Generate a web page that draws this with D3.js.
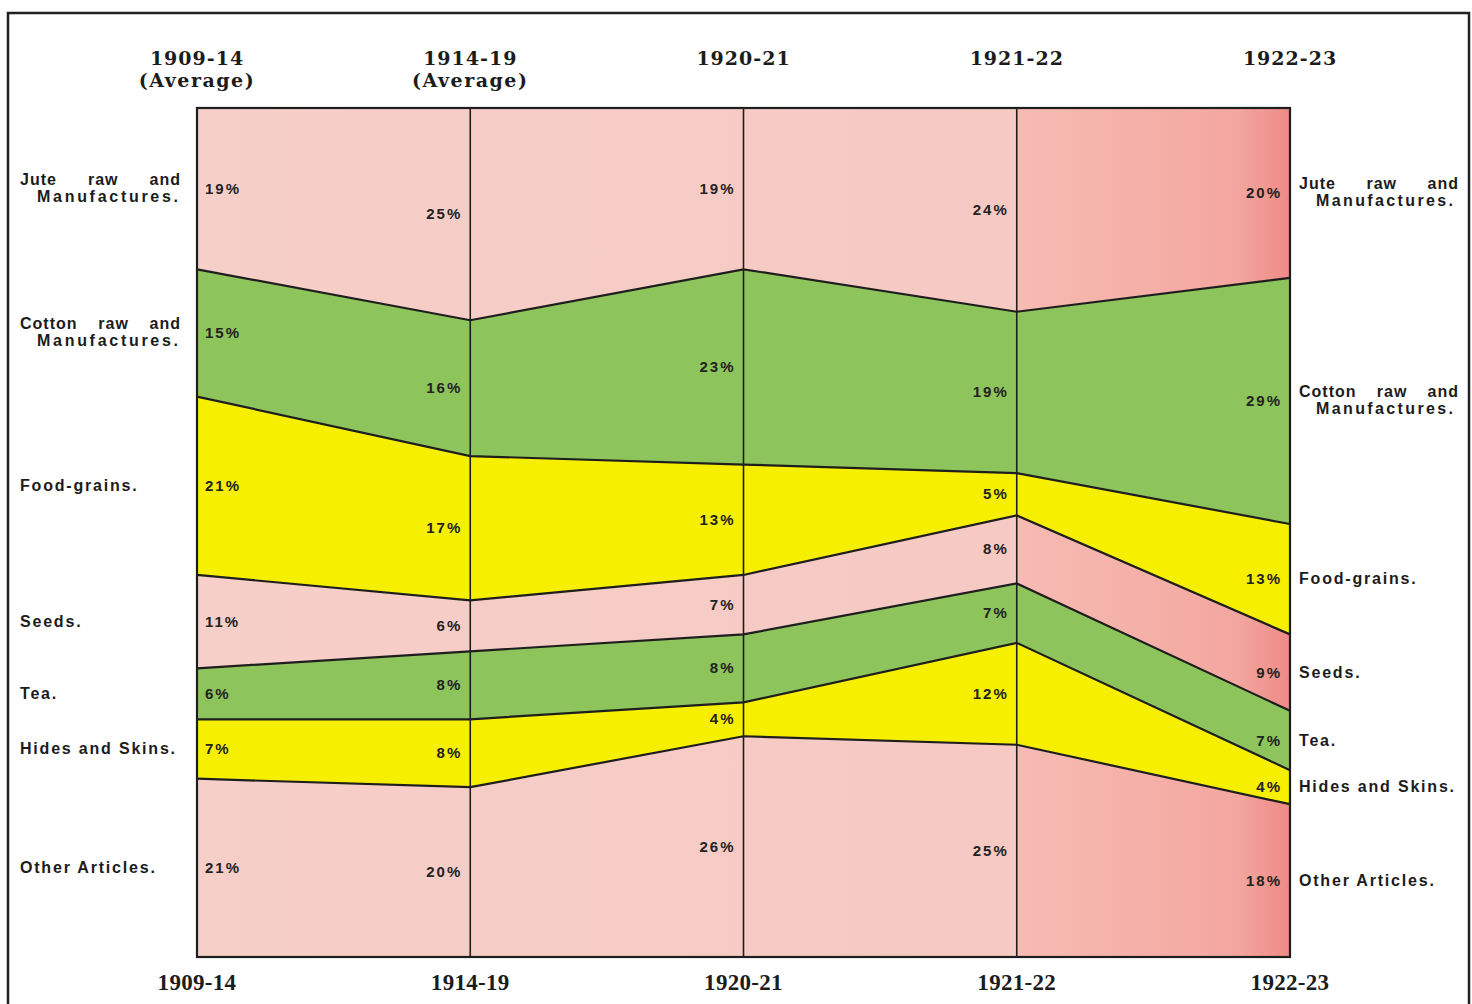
<!DOCTYPE html>
<html>
<head>
<meta charset="utf-8">
<script src="https://cdn.jsdelivr.net/npm/d3@7"></script>
<style>
  body { margin: 0; background: #fff; }
  svg { display: block; }
  .period { font-family: "DejaVu Serif", serif; font-weight: bold; fill: #1c1c1c; }
  .cat { font-family: "Liberation Sans", Arial, sans-serif; font-weight: bold; fill: #1c1c1c; font-size: 16px; letter-spacing: 1.8px; }
  .pct { font-family: "Liberation Sans", Arial, sans-serif; font-weight: bold; fill: #222; font-size: 15px; letter-spacing: 2px; }
</style>
</head>
<body>
<div id="chart"></div>
<script>
// periods and the share (%) of each export group
const periods = ['1909-14', '1914-19', '1920-21', '1921-22', '1922-23'];
const periodNotes = ['(Average)', '(Average)', '', '', ''];

const categories = ['jute', 'cotton', 'food', 'seeds', 'tea', 'hides', 'other'];
const categoryLabels = [
  ['Jute raw and', 'Manufactures.'],
  ['Cotton raw and', 'Manufactures.'],
  ['Food-grains.'],
  ['Seeds.'],
  ['Tea.'],
  ['Hides and Skins.'],
  ['Other Articles.']
];

const jute = [19, 25, 19, 24, 20];
const cotton = [15, 16, 23, 19, 29];
const food = [21, 17, 13, 5, 13];
const seeds = [11, 6, 7, 8, 9];
const tea = [6, 8, 8, 7, 7];
const hides = [7, 8, 4, 12, 4];
const other = [21, 20, 26, 25, 18];

const seriesValues = { jute, cotton, food, seeds, tea, hides, other };
const bandColors = ['pink', 'green', 'yellow', 'pink', 'green', 'yellow', 'pink'];

const width = 1472, height = 1004;
const plotLeft = 197, plotRight = 1290, plotTop = 108, plotBottom = 957;

const table = periods.map((p, i) => {
  const row = { period: p };
  categories.forEach(c => { row[c] = seriesValues[c][i]; });
  return row;
});

const x = d3.scalePoint().domain(periods).range([plotLeft, plotRight]);
const y = d3.scaleLinear().domain([0, 100]).range([plotTop, plotBottom]);

const stacked = d3.stack().keys(categories)(table);

const svg = d3.select('#chart').append('svg')
  .attr('width', width)
  .attr('height', height);

const defs = svg.append('defs');

// the last column of the print is a deeper salmon, reddest at the edge
const pinkGrad = defs.append('linearGradient')
  .attr('id', 'pinkGrad')
  .attr('gradientUnits', 'userSpaceOnUse')
  .attr('x1', plotLeft).attr('x2', plotRight)
  .attr('y1', 0).attr('y2', 0);
pinkGrad.append('stop').attr('offset', '0%').attr('stop-color', '#f6cfc8');
pinkGrad.append('stop').attr('offset', '74.9%').attr('stop-color', '#f6c9c3');
pinkGrad.append('stop').attr('offset', '75%').attr('stop-color', '#f6bbb3');
pinkGrad.append('stop').attr('offset', '95%').attr('stop-color', '#f3a7a0');
pinkGrad.append('stop').attr('offset', '100%').attr('stop-color', '#ee8a86');

const fills = { pink: 'url(#pinkGrad)', green: '#8ec45c', yellow: '#f6f000' };

// outer frame
svg.append('rect')
  .attr('x', 8).attr('y', 13)
  .attr('width', 1461).attr('height', 1010)
  .attr('fill', 'none')
  .attr('stroke', '#222')
  .attr('stroke-width', 2.5);

const area = d3.area()
  .x(d => x(d.data.period))
  .y0(d => y(d[0]))
  .y1(d => y(d[1]));

svg.append('g').selectAll('path')
  .data(stacked)
  .join('path')
  .attr('d', area)
  .attr('fill', (d, i) => fills[bandColors[i]]);

// band boundaries
const edge = d3.line()
  .x(d => x(d.data.period))
  .y(d => y(d[1]));

svg.append('g').selectAll('path')
  .data(stacked.slice(0, -1))
  .join('path')
  .attr('d', edge)
  .attr('fill', 'none')
  .attr('stroke', '#1e1e1e')
  .attr('stroke-width', 2.2);

// vertical period lines
svg.append('g').selectAll('line')
  .data(periods)
  .join('line')
  .attr('x1', d => x(d)).attr('x2', d => x(d))
  .attr('y1', plotTop).attr('y2', plotBottom)
  .attr('stroke', '#1e1e1e')
  .attr('stroke-width', 1.6);

svg.append('rect')
  .attr('x', plotLeft).attr('y', plotTop)
  .attr('width', plotRight - plotLeft).attr('height', plotBottom - plotTop)
  .attr('fill', 'none')
  .attr('stroke', '#1e1e1e')
  .attr('stroke-width', 2.2);

// period headings
const head = svg.append('g');
periods.forEach((p, i) => {
  head.append('text')
    .attr('class', 'period')
    .attr('x', x(p)).attr('y', 65)
    .attr('text-anchor', 'middle')
    .attr('font-size', 19)
    .attr('letter-spacing', 1)
    .text(p);
  if (periodNotes[i]) {
    head.append('text')
      .attr('class', 'period')
      .attr('x', x(p)).attr('y', 87)
      .attr('text-anchor', 'middle')
      .attr('font-size', 19)
      .attr('letter-spacing', 1.5)
      .text(periodNotes[i]);
  }
  svg.append('text')
    .attr('class', 'period')
    .attr('x', x(p)).attr('y', 990)
    .attr('text-anchor', 'middle')
    .attr('font-size', 23)
    .style('font-family', '"Liberation Serif", serif')
    .attr('letter-spacing', 0.3)
    .text(p);
});

// percentage labels inside the bands
const pctG = svg.append('g');
stacked.forEach(s => {
  s.forEach((d, i) => {
    const mid = y((d[0] + d[1]) / 2);
    const first = i === 0;
    pctG.append('text')
      .attr('class', 'pct')
      .attr('x', first ? x(periods[i]) + 8 : x(periods[i]) - 8)
      .attr('y', mid + 5)
      .attr('text-anchor', first ? 'start' : 'end')
      .text(d.data[s.key] + '%');
  });
});

// first line: widen the word gaps; second line: widen the letter gaps
const fitWords = (g, str, x0, target, yy) => {
  const t = g.append('text').attr('class', 'cat')
    .attr('x', x0).attr('y', yy)
    .style('letter-spacing', '1px')
    .text(str);
  const len = t.node().getComputedTextLength();
  const gaps = str.split(' ').length - 1;
  t.style('word-spacing', Math.max(0, (target - len) / gaps) + 'px');
};
const fitLetters = (g, str, x0, target, yy) => {
  const t = g.append('text').attr('class', 'cat')
    .attr('x', x0).attr('y', yy)
    .style('letter-spacing', '0px')
    .text(str);
  const len = t.node().getComputedTextLength();
  t.style('letter-spacing', Math.max(0, (target - len) / (str.length - 1)) + 'px');
};

// category names on both sides
const catLabel = (side) => {
  const col = side === 'left' ? 0 : periods.length - 1;
  const g = svg.append('g');
  stacked.forEach((s, k) => {
    const lines = categoryLabels[k];
    const mid = y((s[col][0] + s[col][1]) / 2);
    const x0 = side === 'left' ? 20 : 1299;
    if (lines.length === 2) {
      fitWords(g, lines[0], x0, side === 'left' ? 161 : 160, mid - 4);
      fitLetters(g, lines[1], x0 + 17, side === 'left' ? 141 : 137, mid + 13);
    } else {
      g.append('text').attr('class', 'cat')
        .attr('x', x0).attr('y', mid + 5)
        .text(lines[0]);
    }
  });
};
catLabel('left');
catLabel('right');
</script>
</body>
</html>
